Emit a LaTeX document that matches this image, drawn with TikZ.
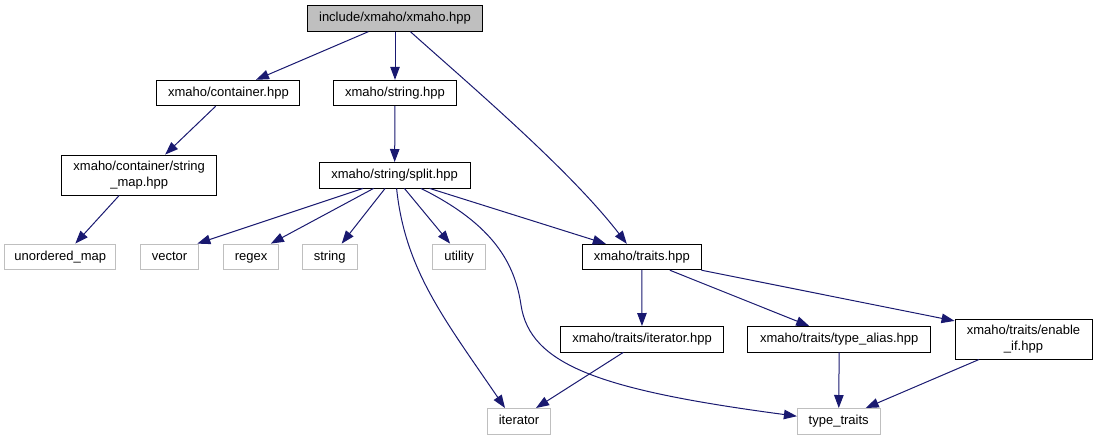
\documentclass[tikz,border=0pt]{standalone}
\usepackage{fontspec}
\setmainfont{Liberation Sans}
\usetikzlibrary{arrows.meta}
\definecolor{edgec}{HTML}{191970}
\definecolor{graybd}{HTML}{BFBFBF}
\begin{document}
\begin{tikzpicture}[x=1pt,y=-1pt,
 base/.style={draw=black, line width=0.9pt, rectangle, inner sep=0pt, font=\fontsize{13}{15.5}\selectfont, align=center},
 box/.style={base, minimum height=25.5pt, text height=9.6pt, text depth=2.8pt},
 twoline/.style={base, minimum height=40pt},
 ext/.style={box, draw=graybd},
 edge/.style={draw=edgec, line width=1pt, -{Triangle[length=13pt,width=9.5pt]}}]
\useasboundingbox (0,0) rectangle (1097,440);
\node[box, fill=graybd, minimum width=175pt] (root) at (395,18.5) {include/xmaho/xmaho.hpp};
\node[box, minimum width=143pt] (container) at (228.4,93) {xmaho/container.hpp};
\node[box, minimum width=123.5pt] (stringh) at (395,93) {xmaho/string.hpp};
\node[twoline, minimum width=155pt] (strmap) at (139.2,175) {xmaho/container/string\\\_map.hpp};
\node[box, minimum width=151pt] (split) at (394.6,175.2) {xmaho/string/split.hpp};
\node[ext, minimum width=110.8pt] (umap) at (60.3,256.8) {unordered\_map};
\node[ext, minimum width=58.6pt] (vector) at (169.6,256.8) {vector};
\node[ext, minimum width=54.7pt] (regex) at (251.1,256.8) {regex};
\node[ext, minimum width=54.7pt] (string) at (329.7,256.8) {string};
\node[ext, minimum width=53.3pt] (utility) at (459.1,256.8) {utility};
\node[box, minimum width=118.3pt] (traits) at (641.8,257) {xmaho/traits.hpp};
\node[box, minimum width=162.6pt] (iterh) at (642,339.2) {xmaho/traits/iterator.hpp};
\node[box, minimum width=183pt] (alias) at (839.2,339.2) {xmaho/traits/type\_alias.hpp};
\node[twoline, minimum width=137pt, minimum height=39.7pt] (enable) at (1023.5,339.2) {xmaho/traits/enable\\\_if.hpp};
\node[ext, minimum width=62.6pt] (iterator) at (519,421.2) {iterator};
\node[ext, minimum width=82.7pt] (ttraits) at (838.7,421.2) {type\_traits};

\draw[edge] ([xshift=-26.7pt]root.south) -- ([xshift=27.6pt]container.north);
\draw[edge] (root) -- (stringh);
\draw[edge] ([xshift=15.4pt]root.south) .. controls (470,85) and (570,170) .. ([xshift=-15pt]traits.north);
\draw[edge] ([xshift=-12.7pt]container.south) -- ([xshift=26pt]strmap.north);
\draw[edge] (stringh) -- (split);
\draw[edge] ([xshift=-20pt]strmap.south) -- ([xshift=15pt]umap.north);
\draw[edge] ([xshift=-31.6pt]split.south) -- ([xshift=-2pt]vector.north east);
\draw[edge] ([xshift=-21pt]split.south) -- ([xshift=-8pt]regex.north east);
\draw[edge] ([xshift=-9.5pt]split.south) -- ([xshift=12pt]string.north);
\draw[edge] ([xshift=9.8pt]split.south) -- ([xshift=-9pt]utility.north);
\draw[edge] ([xshift=2pt]split.south) .. controls (405,270) and (445,320) .. ([xshift=-14pt]iterator.north);
\draw[edge] ([xshift=26.3pt]split.south) .. controls (495,225) and (515,265) .. (521,305) .. controls (530,365) and (600,390) .. ([yshift=5pt]ttraits.west);
\draw[edge] ([xshift=35pt]split.south) -- ([xshift=-36pt]traits.north);
\draw[edge] (traits) -- (iterh);
\draw[edge] ([xshift=28pt]traits.south) -- ([xshift=-30pt]alias.north);
\draw[edge] (traits.south east) -- ([yshift=-2pt]enable.north west);
\draw[edge] ([xshift=-18.7pt]iterh.south) -- ([xshift=17pt]iterator.north);
\draw[edge] (alias) -- (ttraits);
\draw[edge] ([xshift=-44.5pt]enable.south) -- ([xshift=27pt]ttraits.north);
\end{tikzpicture}
\end{document}
